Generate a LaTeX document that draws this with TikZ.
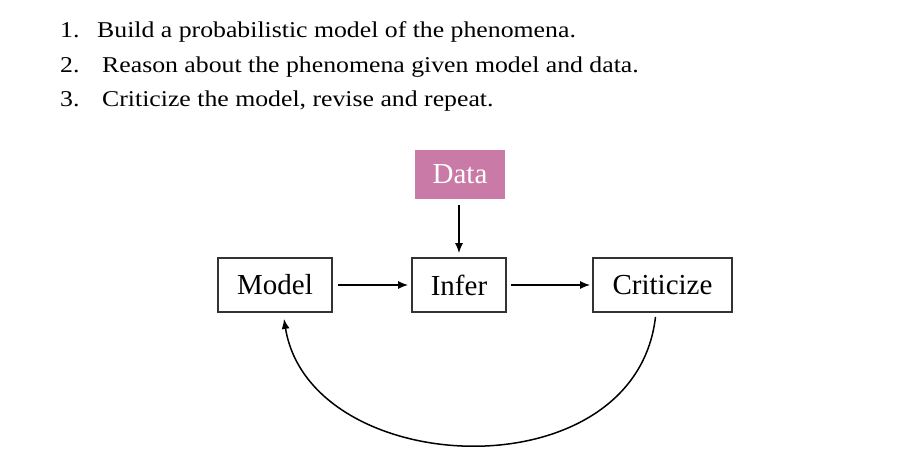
\documentclass[tikz,border=0pt]{standalone}
\usepackage{fontspec}
\setmainfont{Liberation Serif}
\newfontfamily\listfont[FakeStretch=1.14]{Liberation Serif}
\usetikzlibrary{arrows.meta}
\definecolor{datapink}{HTML}{C97AA6}
\definecolor{boxline}{HTML}{333333}
\tikzset{
  box/.style={draw=boxline, line width=1.8pt, fill=white, inner sep=0pt, font=\fontsize{29}{32}\selectfont},
  databox/.style={fill=datapink, inner sep=0pt, text=white, font=\fontsize{29}{32}\selectfont},
  arr/.style={line width=1.5pt, -{Latex[length=10pt,width=8pt]}},
  listitem/.style={anchor=base west, inner sep=0pt, font=\listfont\fontsize{22.6}{26}\selectfont},
}
\begin{document}
\begin{tikzpicture}[x=1pt,y=-1pt]
\useasboundingbox (0,0) rectangle (911,471);
% list
\node[listitem] (n1) at (60,37) {1.};
\node[listitem] (t1) at (97,37) {Build a probabilistic model of the phenomena.};
\node[listitem] (n2) at (60,72) {2.};
\node[listitem] (t2) at (102,72) {Reason about the phenomena given model and data.};
\node[listitem] (n3) at (60,106) {3.};
\node[listitem] (t3) at (102,106) {Criticize the model, revise and repeat.};
% boxes
\node[databox, minimum width=90pt, minimum height=49pt] (data) at (460,174.5) {Data};
\node[box, minimum width=114pt, minimum height=54pt] (model) at (275,285) {Model};
\node[box, minimum width=94pt, minimum height=54pt] (infer) at (459,285) {Infer};
\node[box, minimum width=139pt, minimum height=54pt] (crit) at (662.5,285) {Criticize};
% arrows
\draw[arr, shorten <=6pt, shorten >=4pt] (data.south -| infer.north) -- (infer.north);
\draw[arr, shorten <=5pt, shorten >=3pt] (model.east) -- (infer.west);
\draw[arr, shorten <=4pt, shorten >=2pt] (infer.east) -- (crit.west);
\coordinate (cstart) at ([xshift=-7pt,yshift=-4pt]crit.south);
\coordinate (cend) at ([xshift=9pt,yshift=-6pt]model.south);
\draw[arr] (cstart) .. controls (635,495) and (310,480) .. (cend);
\end{tikzpicture}
\end{document}
